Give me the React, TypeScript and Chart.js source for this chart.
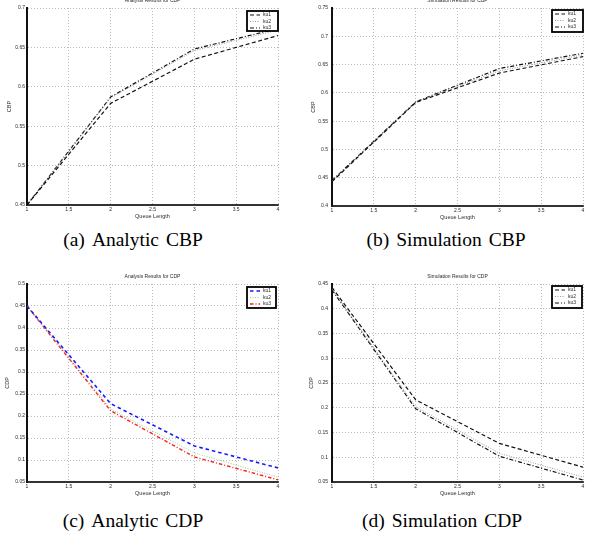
import React, { useEffect, useRef } from "react";
import { Chart, registerables } from "chart.js";

Chart.register(...registerables);

// ---------- data ----------
const queueLength = [1, 2, 3, 4];
const xTicks = [1, 1.5, 2, 2.5, 3, 3.5, 4];
const seriesNames = ["ku1", "ku2", "ku3"];

// (a) Analytic CBP
const analyticCbpKu1 = [0.45, 0.579, 0.635, 0.665];
const analyticCbpKu2 = [0.45, 0.586, 0.646, 0.672];
const analyticCbpKu3 = [0.45, 0.587, 0.648, 0.674];
const analyticCbpTicks = [0.45, 0.5, 0.55, 0.6, 0.65, 0.7];

// (b) Simulation CBP
const simCbpKu1 = [0.443, 0.583, 0.635, 0.664];
const simCbpKu2 = [0.444, 0.584, 0.639, 0.667];
const simCbpKu3 = [0.445, 0.584, 0.643, 0.67];
const simCbpTicks = [0.4, 0.45, 0.5, 0.55, 0.6, 0.65, 0.7, 0.75];

// (c) Analytic CDP
const analyticCdpKu1 = [0.45, 0.228, 0.132, 0.082];
const analyticCdpKu2 = [0.45, 0.216, 0.116, 0.061];
const analyticCdpKu3 = [0.45, 0.212, 0.107, 0.055];
const analyticCdpTicks = [0.05, 0.1, 0.15, 0.2, 0.25, 0.3, 0.35, 0.4, 0.45, 0.5];

// (d) Simulation CDP
const simCdpKu1 = [0.443, 0.216, 0.128, 0.08];
const simCdpKu2 = [0.44, 0.202, 0.108, 0.06];
const simCdpKu3 = [0.438, 0.198, 0.102, 0.054];
const simCdpTicks = [0.05, 0.1, 0.15, 0.2, 0.25, 0.3, 0.35, 0.4, 0.45];

// ---------- styling ----------
const SANS = '"Liberation Sans", Arial, sans-serif';
const TEXT = "#2a2a2a";

const blackStyles = [
  { color: "#111", dash: [4, 2.5], width: 1.2 },
  { color: "#9a9a9a", dash: [1, 1.5], width: 1 },
  { color: "#111", dash: [4, 2, 1, 2], width: 1.2 },
];
const colorStyles = [
  { color: "#1a1aff", dash: [3.5, 3], width: 1.6 },
  { color: "#8fd18f", dash: [1, 1.5], width: 1 },
  { color: "#ff1a1a", dash: [3.5, 2, 1, 2], width: 1.4 },
];

const fmt = (v: number) => String(Number(v.toFixed(2)));

const titlePlugin = {
  id: "topTitle",
  afterDraw(chart: any, _args: any, opts: any) {
    const { ctx, chartArea } = chart;
    ctx.save();
    ctx.font = `5px ${SANS}`;
    ctx.fillStyle = TEXT;
    ctx.textAlign = "center";
    ctx.textBaseline = "middle";
    ctx.fillText(opts.text, (chartArea.left + chartArea.right) / 2, chartArea.top - 7);
    ctx.restore();
  },
};

const legendPlugin = {
  id: "boxLegend",
  afterDraw(chart: any, _args: any, opts: any) {
    const { ctx, chartArea } = chart;
    const w = opts.w;
    const h = opts.h;
    const x = chartArea.right - opts.dx - w;
    const y = chartArea.top + opts.dy;
    ctx.save();
    ctx.fillStyle = "#fff";
    ctx.fillRect(x, y, w, h);
    ctx.lineWidth = 1.8;
    ctx.strokeStyle = "#000";
    ctx.strokeRect(x, y, w, h);
    chart.data.datasets.forEach((ds: any, i: number) => {
      const ly = y + 4 + i * 6.5;
      ctx.setLineDash(ds.borderDash || []);
      ctx.strokeStyle = ds.borderColor;
      ctx.lineWidth = ds.borderWidth;
      ctx.beginPath();
      ctx.moveTo(x + 3, ly);
      ctx.lineTo(x + 13, ly);
      ctx.stroke();
      ctx.setLineDash([]);
      ctx.fillStyle = TEXT;
      ctx.font = `5px ${SANS}`;
      ctx.textBaseline = "middle";
      ctx.textAlign = "left";
      ctx.fillText(ds.label, x + 16, ly);
    });
    ctx.restore();
  },
};

type PlotProps = {
  box: { x: number; y: number; w: number; h: number };
  area: { left: number; top: number; right: number; bottom: number };
  title: string;
  yTitle: string;
  yTitlePad: number;
  yTickPad: number;
  yTicks: number[];
  series: number[][];
  styles: { color: string; dash: number[]; width: number }[];
  legend: { w: number; h: number; dx: number; dy: number };
};

function Plot(p: PlotProps) {
  const ref = useRef<HTMLCanvasElement>(null);
  useEffect(() => {
    if (!ref.current) return;
    const yW = p.area.left - p.box.x;
    const xH = p.box.y + p.box.h - p.area.bottom;
    const chart = new Chart(ref.current, {
      type: "line",
      data: {
        datasets: p.series.map((vals, i) => ({
          label: seriesNames[i],
          data: vals.map((v, j) => ({ x: queueLength[j], y: v })),
          borderColor: p.styles[i].color,
          borderDash: p.styles[i].dash,
          borderWidth: p.styles[i].width,
          pointRadius: 0,
          fill: false,
          tension: 0,
        })),
      },
      options: {
        responsive: false,
        animation: false,
        devicePixelRatio: 1,
        layout: {
          padding: {
            left: 0,
            top: p.area.top - p.box.y,
            right: p.box.x + p.box.w - p.area.right,
            bottom: 0,
          },
        },
        plugins: {
          legend: { display: false },
          tooltip: { enabled: false },
          title: { display: false },
          topTitle: { text: p.title },
          boxLegend: p.legend,
        } as any,
        scales: {
          x: {
            type: "linear",
            min: 1,
            max: 4,
            afterBuildTicks: (s: any) => {
              s.ticks = xTicks.map((v) => ({ value: v }));
            },
            afterFit: (s: any) => {
              s.height = xH;
            },
            ticks: {
              font: { size: 5, family: SANS },
              color: TEXT,
              padding: 2,
              maxRotation: 0,
              autoSkip: false,
              callback: (v: any) => fmt(Number(v)),
            },
            grid: { color: "#9c9c9c", lineWidth: 0.7, drawTicks: false },
            border: { display: true, color: "#333", width: 2, dash: [1, 2] },
            title: {
              display: true,
              text: "Queue Length",
              font: { size: 5.5, family: SANS },
              color: TEXT,
              padding: { top: 0, bottom: 0 },
            },
          },
          y: {
            type: "linear",
            min: p.yTicks[0],
            max: p.yTicks[p.yTicks.length - 1],
            afterBuildTicks: (s: any) => {
              s.ticks = p.yTicks.map((v) => ({ value: v }));
            },
            afterFit: (s: any) => {
              s.width = yW;
            },
            ticks: {
              font: { size: 5, family: SANS },
              color: TEXT,
              padding: p.yTickPad,
              autoSkip: false,
              callback: (v: any) => fmt(Number(v)),
            },
            grid: { color: "#9c9c9c", lineWidth: 0.7, drawTicks: false },
            border: { display: true, color: "#111", width: 2, dash: [1, 2] },
            title: {
              display: true,
              text: p.yTitle,
              font: { size: 5.5, family: SANS },
              color: TEXT,
              padding: { top: p.yTitlePad, bottom: 0 },
            },
          },
        },
      },
      plugins: [titlePlugin, legendPlugin],
    });
    return () => chart.destroy();
  }, []);
  return (
    <canvas
      ref={ref}
      width={p.box.w}
      height={p.box.h}
      style={{ position: "absolute", left: p.box.x, top: p.box.y, width: p.box.w, height: p.box.h }}
    />
  );
}

function Caption({ cx, cy, label, text }: { cx: number; cy: number; label: string; text: string }) {
  return (
    <div
      style={{
        position: "absolute",
        left: cx - 130,
        width: 260,
        top: cy - 12,
        height: 24,
        lineHeight: "24px",
        textAlign: "center",
        fontFamily: '"Liberation Serif", "Times New Roman", serif',
        fontSize: 19.5,
        color: "#000",
        whiteSpace: "nowrap",
        wordSpacing: 2,
      }}
    >
      <span style={{ marginRight: 7 }}>{label}</span>
      {text}
    </div>
  );
}

export default function App() {
  return (
    <div style={{ position: "absolute", left: 0, top: 0, width: 595, height: 539, background: "#fff", overflow: "hidden" }}>
      <Plot
        box={{ x: 0, y: 0, w: 295, h: 220 }}
        area={{ left: 27, top: 8, right: 278, bottom: 205 }}
        title="Analysis Results for CBP"
        yTitle="CBP"
        yTitlePad={6}
        yTickPad={2}
        yTicks={analyticCbpTicks}
        series={[analyticCbpKu1, analyticCbpKu2, analyticCbpKu3]}
        styles={blackStyles}
        legend={{ w: 31, h: 20, dx: 0, dy: 3 }}
      />
      <Plot
        box={{ x: 300, y: 0, w: 295, h: 221 }}
        area={{ left: 332, top: 8, right: 583, bottom: 206 }}
        title="Simulation Results for CBP"
        yTitle="CBP"
        yTitlePad={10}
        yTickPad={4}
        yTicks={simCbpTicks}
        series={[simCbpKu1, simCbpKu2, simCbpKu3]}
        styles={blackStyles}
        legend={{ w: 31, h: 22, dx: 0, dy: 2 }}
      />
      <Plot
        box={{ x: 0, y: 270, w: 295, h: 227 }}
        area={{ left: 27, top: 284, right: 278, bottom: 482 }}
        title="Analysis Results for CDP"
        yTitle="CDP"
        yTitlePad={4}
        yTickPad={2}
        yTicks={analyticCdpTicks}
        series={[analyticCdpKu1, analyticCdpKu2, analyticCdpKu3]}
        styles={colorStyles}
        legend={{ w: 29, h: 21, dx: 2, dy: 3 }}
      />
      <Plot
        box={{ x: 300, y: 270, w: 295, h: 227 }}
        area={{ left: 332, top: 284, right: 583, bottom: 482 }}
        title="Simulation Results for CDP"
        yTitle="CDP"
        yTitlePad={8}
        yTickPad={4}
        yTicks={simCdpTicks}
        series={[simCdpKu1, simCdpKu2, simCdpKu3]}
        styles={blackStyles}
        legend={{ w: 30, h: 22, dx: 1, dy: 2 }}
      />
      <Caption cx={133} cy={240} label="(a)" text="Analytic CBP" />
      <Caption cx={446} cy={240} label="(b)" text="Simulation CBP" />
      <Caption cx={133} cy={521} label="(c)" text="Analytic CDP" />
      <Caption cx={442} cy={521} label="(d)" text="Simulation CDP" />
    </div>
  );
}
